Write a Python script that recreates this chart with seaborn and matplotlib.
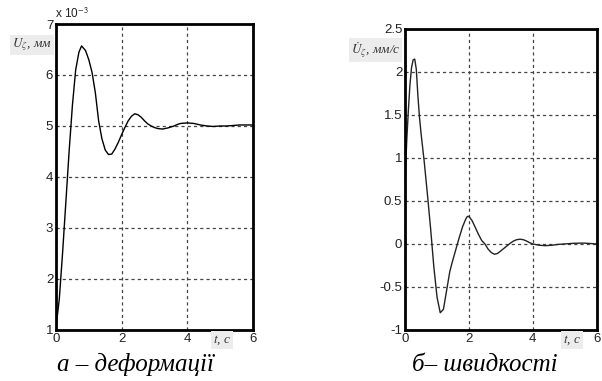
import numpy as np
import pandas as pd
import matplotlib
matplotlib.use("Agg")
import matplotlib.pyplot as plt
import seaborn as sns

# deformation U, x 1e-3 mm
t_def = [0.0, 0.1, 0.2, 0.3, 0.4, 0.5, 0.6, 0.7, 0.78, 0.9, 1.0, 1.1, 1.2, 1.3, 1.4,
         1.5, 1.6, 1.7, 1.8, 1.9, 2.0, 2.1, 2.2, 2.3, 2.4, 2.5, 2.6, 2.7, 2.8, 2.9,
         3.0, 3.1, 3.25, 3.4, 3.5, 3.6, 3.7, 3.8, 4.0, 4.2, 4.4, 4.6, 4.8, 5.0, 5.2,
         5.4, 5.6, 5.8, 6.0]
u_def = [1.05, 1.6, 2.5, 3.5, 4.5, 5.4, 6.1, 6.45, 6.57, 6.48, 6.3, 6.05, 5.65, 5.1, 4.75,
         4.53, 4.44, 4.45, 4.55, 4.68, 4.83, 4.97, 5.1, 5.19, 5.24, 5.22, 5.17, 5.1, 5.04, 5.0,
         4.97, 4.95, 4.94, 4.96, 4.98, 5.0, 5.03, 5.05, 5.06, 5.05, 5.02, 5.0, 4.99, 5.0, 5.0,
         5.01, 5.02, 5.02, 5.02]

# velocity dU/dt, mm/s
t_vel = [0.0, 0.05, 0.1, 0.15, 0.2, 0.25, 0.3, 0.35, 0.4, 0.45, 0.5, 0.6, 0.7, 0.8, 0.9,
         1.0, 1.1, 1.2, 1.3, 1.4, 1.5, 1.6, 1.7, 1.8, 1.9, 1.95, 2.0, 2.1, 2.2, 2.3,
         2.4, 2.5, 2.6, 2.7, 2.8, 2.9, 3.0, 3.1, 3.2, 3.3, 3.4, 3.5, 3.6, 3.7, 3.8,
         3.9, 4.0, 4.2, 4.4, 4.6, 4.8, 5.0, 5.3, 5.6, 5.8, 6.0]
v_vel = [0.75, 1.2, 1.55, 1.85, 2.05, 2.14, 2.15, 2.03, 1.72, 1.47, 1.28, 0.95, 0.57, 0.17, -0.27,
         -0.62, -0.8, -0.76, -0.54, -0.32, -0.18, -0.05, 0.08, 0.2, 0.29, 0.32, 0.32, 0.27, 0.19, 0.11,
         0.04, 0.0, -0.06, -0.1, -0.12, -0.11, -0.08, -0.05, -0.02, 0.01, 0.035, 0.05, 0.055, 0.05, 0.035,
         0.015, 0.0, -0.015, -0.02, -0.015, -0.005, 0.0, 0.008, 0.01, 0.005, 0.0]

x_ticks = [0, 2, 4, 6]
y_ticks_def = [1, 2, 3, 4, 5, 6, 7]
y_ticks_vel = [-1, -0.5, 0, 0.5, 1, 1.5, 2, 2.5]
y_ticklabels_vel = ["-1", "-0.5", "0", "0.5", "1", "1.5", "2", "2.5"]

sns.set_style("white")
plt.rcParams["font.family"] = ["Liberation Sans", "DejaVu Sans"]
plt.rcParams["mathtext.fontset"] = "stix"

fig = plt.figure(figsize=(6.02, 3.81), dpi=100)
ax1 = fig.add_axes([0.093, 0.134, 0.327, 0.803])
ax2 = fig.add_axes([0.673, 0.134, 0.318, 0.790])

df_def = pd.DataFrame({"t": t_def, "u": u_def})
df_vel = pd.DataFrame({"t": t_vel, "v": v_vel})
sns.lineplot(data=df_def, x="t", y="u", ax=ax1, color="black", linewidth=1.0)
sns.lineplot(data=df_vel, x="t", y="v", ax=ax2, color="#222222", linewidth=1.0)

grid_kw = dict(color="#444444", linestyle=(0, (2.5, 2.5)), linewidth=0.9)
for ax in (ax1, ax2):
    ax.set_xlim(0, 6)
    ax.set_xticks(x_ticks)
    ax.set_xticklabels([str(v) for v in x_ticks])
    ax.grid(True, **grid_kw)
    ax.set_xlabel("")
    ax.set_ylabel("")
    for s in ax.spines.values():
        s.set_visible(True)
        s.set_color("black")
        s.set_linewidth(2.0)
    ax.tick_params(axis="both", direction="in", length=0, labelsize=9.5, pad=2,
                   labelcolor="#222222")

ax1.set_ylim(1, 7)
ax1.set_yticks(y_ticks_def)
ax1.set_yticklabels([str(v) for v in y_ticks_def])
ax2.set_ylim(-1, 2.5)
ax2.set_yticks(y_ticks_vel)
ax2.set_yticklabels(y_ticklabels_vel)

# offset text
fig.text(0.092, 0.952, r"x 10$^{\mathsf{-3}}$", fontsize=8.5, color="#222222")

lab = dict(family=["Liberation Serif", "DejaVu Serif"], style="italic", fontsize=9.5,
           color="#333333",
           bbox=dict(boxstyle="square,pad=0.15", facecolor="#ececec", edgecolor="none"))
fig.text(0.086, 0.882, r"$U_{\zeta}$, мм", ha="right", va="center", **lab)
fig.text(0.665, 0.868, r"$\dot{U}_{\zeta}$, мм/с", ha="right", va="center", **lab)
fig.text(0.369, 0.108, r"$t$, с", ha="center", va="center", **lab)
fig.text(0.950, 0.108, r"$t$, с", ha="center", va="center", **lab)

cap = dict(family=["Liberation Serif", "DejaVu Serif"], style="italic", fontsize=18,
           color="black", ha="center", va="center")
fig.text(0.225, 0.042, "а – деформації", **cap)
fig.text(0.805, 0.042, "б– швидкості", **cap)

fig.savefig("out.png", dpi=100)
